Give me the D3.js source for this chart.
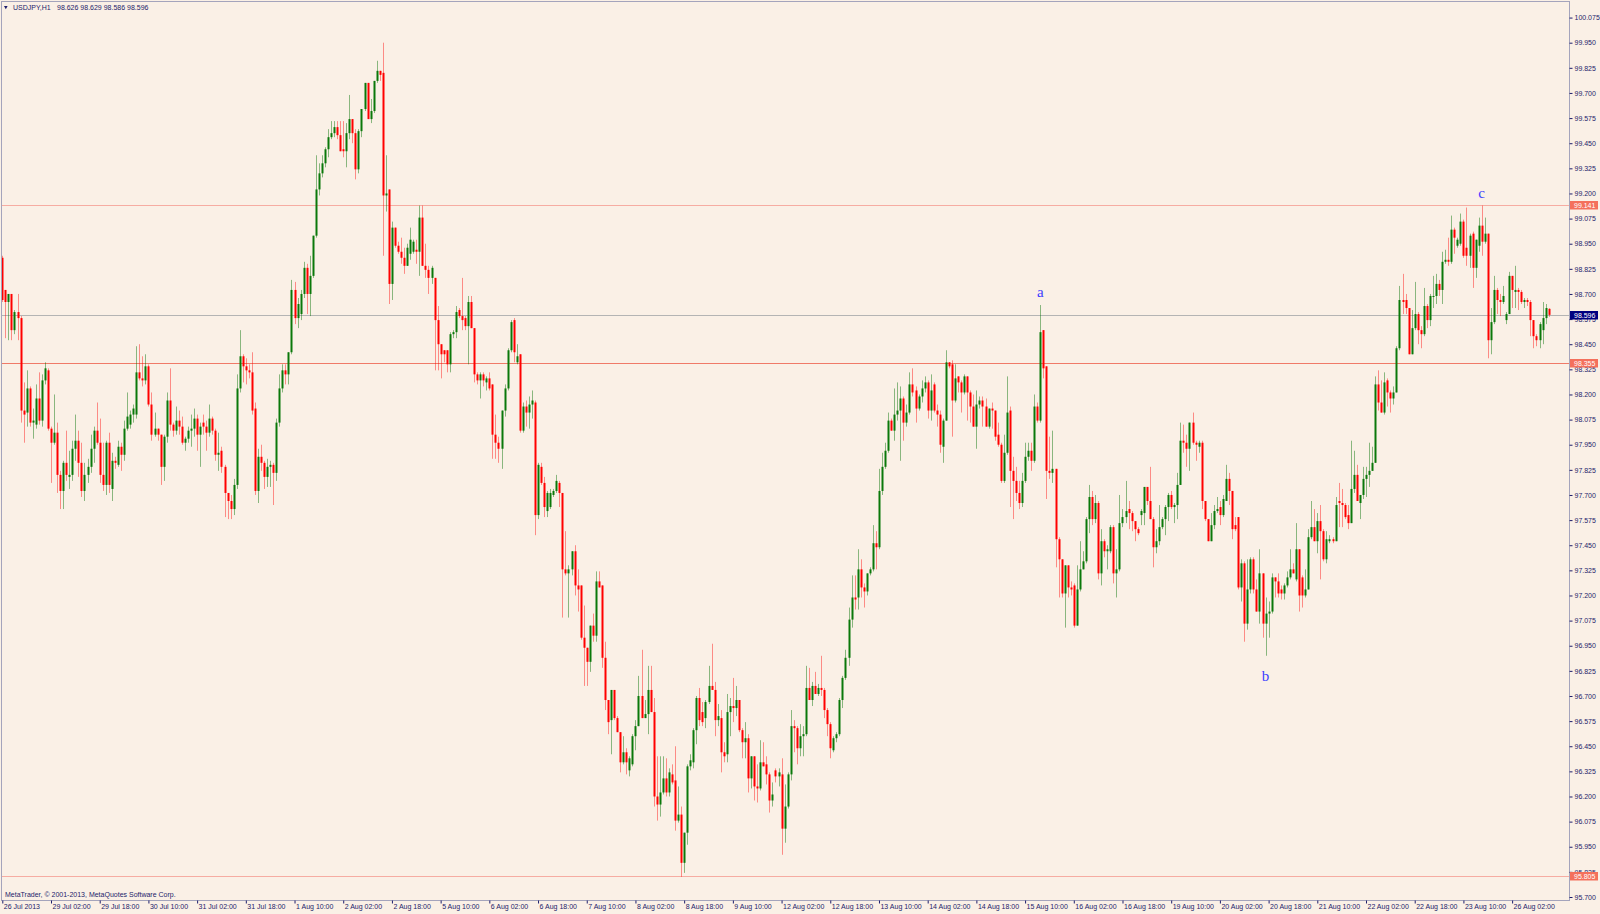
<!DOCTYPE html>
<html>
<head>
<meta charset="utf-8">
<script src="https://cdn.jsdelivr.net/npm/d3@7"></script>
<style>
    html, body { margin: 0; padding: 0; background: #faf0e6; }
    svg { display: block; }
</style>
</head>
<body>
<svg id="chart" width="1600" height="914"></svg>
<script>

// USDJPY H1 bars, one list per trading day: [open, high, low, close]
let jul26 = [[98.88,98.89,98.66,98.67],[98.72,98.72,98.48,98.66],[98.66,98.70,98.47,98.70],[98.70,98.70,98.47,98.52],[98.52,98.62,98.50,98.61],[98.61,98.70,98.47,98.58],[98.58,98.59,98.06,98.12],[98.12,98.26,97.96,98.10],[98.11,98.32,98.04,98.23],[98.23,98.24,98.04,98.06],[98.06,98.13,97.98,98.07],[98.05,98.25,98.03,98.18],[98.18,98.31,98.05,98.07],[98.07,98.30,98.04,98.27]];
let jul29 = [[98.27,98.36,98.25,98.33],[98.32,98.33,98.02,98.03],[98.03,98.04,97.76,97.96],[97.96,98.20,97.95,98.01],[98.01,98.06,97.71,97.80],[97.80,97.82,97.63,97.72],[97.72,97.87,97.63,97.86],[97.86,98.02,97.77,97.80],[97.79,97.92,97.73,97.80],[97.80,97.97,97.77,97.93],[97.93,98.10,97.87,97.97],[97.97,98.02,97.79,97.86],[97.86,97.96,97.69,97.72],[97.72,97.86,97.67,97.80],[97.80,97.88,97.76,97.84],[97.84,98.00,97.81,97.93],[97.93,98.04,97.86,98.02],[98.02,98.16,97.95,97.96],[97.96,98.08,97.76,97.80],[97.80,97.96,97.72,97.75],[97.75,97.97,97.70,97.96],[97.96,98.01,97.71,97.75],[97.73,97.91,97.67,97.87],[97.87,97.89,97.83,97.86]];
let jul30 = [[97.85,97.97,97.84,97.94],[97.94,97.96,97.82,97.90],[97.90,98.07,97.87,98.03],[98.03,98.21,98.02,98.09],[98.05,98.12,98.03,98.10],[98.10,98.15,98.06,98.13],[98.10,98.44,98.08,98.31],[98.31,98.45,98.27,98.28],[98.28,98.39,98.24,98.27],[98.27,98.40,98.25,98.34],[98.34,98.35,98.14,98.15],[98.15,98.21,97.97,98.00],[98.00,98.11,97.99,98.03],[98.03,98.03,97.97,98.00],[98.00,98.00,97.75,97.84],[97.84,98.00,97.77,97.99],[97.99,98.21,97.96,98.17],[98.17,98.33,98.02,98.05],[98.05,98.06,97.99,98.02],[98.02,98.14,98.00,98.07],[98.07,98.12,98.00,98.04],[98.04,98.09,97.95,97.96],[97.96,97.99,97.92,97.98],[97.98,98.04,97.96,98.02]];
let jul31 = [[98.02,98.10,97.94,98.03],[98.03,98.13,97.99,98.08],[98.08,98.10,97.92,98.00],[98.00,98.06,97.84,98.04],[98.06,98.10,98.00,98.04],[98.04,98.07,97.92,98.01],[98.01,98.15,97.99,98.08],[98.08,98.09,98.00,98.02],[98.02,98.03,97.87,97.90],[97.90,98.01,97.82,97.91],[97.92,97.94,97.81,97.84],[97.84,97.85,97.59,97.71],[97.71,97.71,97.58,97.67],[97.67,97.70,97.58,97.63],[97.63,97.78,97.60,97.75],[97.75,98.30,97.73,98.23],[98.23,98.52,98.21,98.39],[98.39,98.40,98.26,98.34],[98.34,98.38,98.25,98.32],[98.32,98.35,98.28,98.31],[98.31,98.41,98.10,98.12],[98.13,98.16,97.70,97.72],[97.72,97.93,97.66,97.89],[97.89,97.95,97.82,97.86]];
let aug01 = [[97.86,97.87,97.73,97.79],[97.79,97.88,97.74,97.84],[97.84,97.87,97.74,97.85],[97.85,97.86,97.65,97.81],[97.81,98.08,97.77,98.06],[98.06,98.30,98.04,98.23],[98.23,98.35,98.21,98.32],[98.32,98.35,98.25,98.30],[98.30,98.41,98.25,98.41],[98.41,98.77,98.40,98.72],[98.72,98.76,98.55,98.58],[98.58,98.68,98.53,98.65],[98.60,98.72,98.57,98.70],[98.70,98.86,98.68,98.83],[98.83,98.85,98.60,98.70],[98.70,98.89,98.59,98.79],[98.79,98.99,98.78,98.99],[98.99,99.39,98.98,99.22],[99.22,99.35,99.19,99.30],[99.30,99.39,99.28,99.35],[99.35,99.43,99.33,99.42],[99.42,99.52,99.38,99.48],[99.48,99.56,99.47,99.50],[99.50,99.56,99.48,99.53]];
let aug02 = [[99.53,99.56,99.47,99.49],[99.49,99.56,99.41,99.41],[99.42,99.56,99.38,99.41],[99.41,99.55,99.33,99.50],[99.50,99.69,99.47,99.57],[99.57,99.57,99.45,99.50],[99.50,99.52,99.27,99.32],[99.32,99.52,99.30,99.51],[99.51,99.62,99.48,99.62],[99.62,99.75,99.61,99.75],[99.75,99.75,99.57,99.57],[99.57,99.67,99.55,99.61],[99.61,99.76,99.60,99.76],[99.76,99.86,99.75,99.81],[99.81,99.81,99.76,99.79],[99.80,99.95,98.89,99.19],[99.19,99.39,99.11,99.20],[99.22,99.22,98.65,98.75],[98.75,99.06,98.67,99.03],[99.03,99.03,98.93,98.94],[98.94,98.96,98.90,98.91],[98.91,98.98,98.85,98.88],[98.88,98.93,98.80,98.84],[98.84,98.95,98.84,98.93]];
let aug05 = [[98.90,99.03,98.87,98.97],[98.91,98.97,98.90,98.96],[98.92,98.97,98.85,98.91],[98.91,99.14,98.79,99.08],[99.08,99.14,98.84,98.84],[98.84,98.95,98.78,98.82],[98.82,98.84,98.70,98.78],[98.78,98.84,98.75,98.83],[98.78,98.78,98.32,98.57],[98.57,98.64,98.32,98.45],[98.45,98.45,98.28,98.40],[98.42,98.42,98.36,98.40],[98.42,98.42,98.31,98.35],[98.35,98.51,98.31,98.50],[98.50,98.52,98.48,98.51],[98.51,98.64,98.48,98.61],[98.62,98.63,98.58,98.59],[98.59,98.78,98.52,98.57],[98.58,98.59,98.52,98.54],[98.54,98.69,98.35,98.66],[98.66,98.69,98.53,98.53],[98.53,98.53,98.26,98.30],[98.30,98.31,98.25,98.27],[98.27,98.31,98.18,98.30]];
let aug06 = [[98.30,98.31,98.24,98.27],[98.26,98.29,98.22,98.28],[98.28,98.31,98.22,98.23],[98.25,98.25,97.88,98.00],[98.00,98.10,97.88,97.96],[97.96,97.99,97.86,97.93],[97.93,98.12,97.83,98.12],[98.12,98.25,98.09,98.23],[98.23,98.43,98.22,98.42],[98.42,98.57,98.41,98.56],[98.57,98.58,98.36,98.41],[98.36,98.45,98.35,98.39],[98.40,98.40,98.01,98.02],[98.02,98.16,98.01,98.14],[98.14,98.17,98.04,98.11],[98.11,98.19,98.03,98.15],[98.15,98.22,98.08,98.17],[98.16,98.17,97.50,97.60],[97.60,97.86,97.58,97.85],[97.84,97.86,97.75,97.76],[97.76,97.79,97.59,97.64],[97.62,97.72,97.59,97.71],[97.64,97.73,97.63,97.71],[97.70,97.73,97.69,97.72]];
let aug07 = [[97.72,97.80,97.71,97.77],[97.76,97.77,97.64,97.71],[97.71,97.71,97.09,97.33],[97.33,97.52,97.30,97.31],[97.31,97.35,97.09,97.33],[97.33,97.42,97.30,97.42],[97.42,97.45,97.20,97.25],[97.25,97.33,97.12,97.23],[97.25,97.25,96.98,96.99],[96.99,97.15,96.75,96.94],[96.94,96.94,96.75,96.87],[96.87,97.05,96.82,97.05],[97.05,97.11,96.97,97.00],[97.00,97.32,96.97,97.27],[97.27,97.32,97.24,97.24],[97.25,97.25,96.84,96.89],[96.89,96.97,96.63,96.68],[96.68,96.68,96.51,96.57],[96.58,96.73,96.41,96.73],[96.73,96.73,96.58,96.59],[96.59,96.60,96.52,96.52],[96.52,96.52,96.32,96.37],[96.37,96.50,96.36,96.42],[96.42,96.44,96.31,96.37]];
let aug08 = [[96.33,96.40,96.30,96.39],[96.36,96.51,96.35,96.50],[96.50,96.58,96.43,96.55],[96.55,96.80,96.55,96.70],[96.70,96.93,96.59,96.59],[96.59,96.68,96.59,96.61],[96.61,96.85,96.51,96.73],[96.73,96.85,96.62,96.62],[96.62,96.69,96.15,96.20],[96.20,96.40,96.08,96.16],[96.16,96.40,96.10,96.22],[96.22,96.40,96.21,96.29],[96.29,96.39,96.20,96.22],[96.22,96.34,96.20,96.32],[96.31,96.36,96.26,96.27],[96.28,96.45,96.03,96.08],[96.08,96.25,96.07,96.11],[96.11,96.15,95.80,95.87],[95.87,96.02,95.82,96.02],[96.02,96.36,95.96,96.35],[96.35,96.41,96.33,96.38],[96.37,96.54,96.34,96.53],[96.53,96.70,96.46,96.69],[96.69,96.74,96.55,96.58]];
let aug09 = [[96.62,96.67,96.55,96.57],[96.59,96.68,96.54,96.67],[96.67,96.85,96.66,96.75],[96.75,96.96,96.73,96.73],[96.73,96.77,96.50,96.58],[96.58,96.66,96.55,96.60],[96.59,96.63,96.32,96.42],[96.42,96.47,96.37,96.40],[96.41,96.71,96.37,96.62],[96.62,96.69,96.50,96.65],[96.65,96.79,96.57,96.64],[96.64,96.75,96.60,96.68],[96.68,96.68,96.52,96.53],[96.53,96.54,96.39,96.47],[96.47,96.57,96.39,96.49],[96.49,96.51,96.22,96.29],[96.29,96.40,96.24,96.40],[96.40,96.40,96.18,96.25],[96.25,96.36,96.17,96.24],[96.24,96.48,96.23,96.37],[96.37,96.47,96.35,96.35],[96.36,96.40,96.26,96.31],[96.31,96.32,96.12,96.18],[96.18,96.27,96.15,96.21]];
let aug12 = [[96.33,96.34,96.27,96.30],[96.30,96.34,96.25,96.32],[96.31,96.39,95.91,96.04],[96.04,96.26,95.97,96.15],[96.15,96.32,96.14,96.31],[96.31,96.63,96.28,96.55],[96.55,96.58,96.42,96.54],[96.54,96.55,96.36,96.44],[96.44,96.56,96.40,96.50],[96.50,96.55,96.40,96.51],[96.51,96.85,96.50,96.74],[96.74,96.84,96.68,96.68],[96.68,96.77,96.65,96.75],[96.75,96.82,96.71,96.71],[96.71,96.76,96.70,96.74],[96.74,96.90,96.70,96.73],[96.73,96.74,96.59,96.63],[96.63,96.64,96.50,96.56],[96.56,96.57,96.39,96.44],[96.43,96.50,96.42,96.49],[96.49,96.52,96.47,96.51],[96.51,96.69,96.50,96.68],[96.68,96.80,96.64,96.79],[96.79,96.93,96.78,96.89]];
let aug13 = [[96.89,97.14,96.85,97.08],[97.08,97.30,97.04,97.19],[97.19,97.30,97.13,97.18],[97.19,97.43,97.13,97.33],[97.33,97.38,97.19,97.24],[97.24,97.26,97.14,97.22],[97.22,97.31,97.20,97.31],[97.31,97.34,97.30,97.33],[97.33,97.55,97.32,97.46],[97.46,97.52,97.33,97.44],[97.44,97.83,97.43,97.72],[97.72,97.91,97.70,97.84],[97.84,97.96,97.83,97.92],[97.92,98.11,97.91,98.07],[98.07,98.08,98.02,98.02],[98.02,98.23,97.97,98.10],[98.10,98.26,98.07,98.12],[98.12,98.24,97.87,98.18],[98.18,98.19,97.97,98.06],[98.06,98.15,98.04,98.11],[98.11,98.31,98.10,98.25],[98.25,98.33,98.19,98.21],[98.22,98.24,98.06,98.13],[98.13,98.20,98.12,98.19]];
let aug14 = [[98.19,98.27,98.16,98.23],[98.23,98.29,98.21,98.26],[98.26,98.27,98.08,98.12],[98.12,98.30,98.07,98.22],[98.25,98.26,98.11,98.12],[98.12,98.15,98.04,98.10],[98.10,98.12,97.91,97.95],[97.94,98.08,97.86,98.07],[98.07,98.42,98.07,98.36],[98.36,98.36,98.33,98.34],[98.35,98.37,97.99,98.17],[98.17,98.35,98.16,98.28],[98.29,98.29,98.21,98.26],[98.26,98.27,98.11,98.21],[98.21,98.30,98.20,98.29],[98.29,98.29,98.07,98.21],[98.21,98.22,98.06,98.14],[98.14,98.20,98.04,98.04],[98.04,98.22,97.93,98.15],[98.15,98.19,98.13,98.17],[98.17,98.19,98.04,98.14],[98.14,98.18,98.04,98.04],[98.04,98.13,98.03,98.13],[98.13,98.16,98.03,98.12]];
let aug15 = [[98.12,98.12,97.97,97.99],[98.00,98.06,97.94,97.95],[97.95,97.96,97.76,97.77],[97.77,98.00,97.76,97.91],[97.91,98.29,97.90,98.11],[98.12,98.14,97.64,97.82],[97.82,97.89,97.58,97.77],[97.77,97.84,97.67,97.71],[97.71,97.77,97.63,97.66],[97.66,97.81,97.64,97.77],[97.77,97.96,97.76,97.89],[97.89,97.96,97.87,97.92],[97.92,97.96,97.82,97.87],[97.87,98.20,97.86,98.14],[98.14,98.16,98.06,98.07],[98.07,98.645,98.06,98.51],[98.52,98.52,98.28,98.33],[98.34,98.34,97.68,97.82],[97.82,97.99,97.78,97.81],[97.81,98.02,97.76,97.83],[97.83,97.83,97.34,97.48],[97.48,97.49,97.19,97.38],[97.38,97.38,97.19,97.21],[97.21,97.35,97.04,97.35]];
let aug16 = [[97.35,97.35,97.19,97.24],[97.24,97.27,97.20,97.23],[97.25,97.26,97.04,97.05],[97.05,97.35,97.05,97.23],[97.23,97.47,97.22,97.33],[97.33,97.42,97.33,97.37],[97.37,97.59,97.36,97.58],[97.58,97.75,97.51,97.69],[97.69,97.72,97.55,97.58],[97.58,97.70,97.56,97.66],[97.66,97.67,97.28,97.31],[97.31,97.53,97.25,97.47],[97.47,97.48,97.39,97.42],[97.42,97.45,97.33,97.43],[97.42,97.55,97.41,97.54],[97.54,97.55,97.26,97.31],[97.31,97.43,97.19,97.33],[97.33,97.70,97.32,97.56],[97.56,97.63,97.54,97.59],[97.59,97.77,97.56,97.62],[97.63,97.67,97.53,97.61],[97.61,97.62,97.52,97.57],[97.57,97.57,97.47,97.53],[97.53,97.54,97.50,97.51]];
let aug19 = [[97.60,97.63,97.55,97.62],[97.61,97.74,97.55,97.74],[97.74,97.74,97.65,97.67],[97.67,97.84,97.58,97.58],[97.58,97.59,97.34,97.44],[97.44,97.53,97.41,97.47],[97.47,97.65,97.45,97.54],[97.54,97.59,97.53,97.58],[97.58,97.65,97.50,97.64],[97.64,97.71,97.57,97.70],[97.70,97.72,97.63,97.64],[97.64,97.66,97.56,97.65],[97.65,97.81,97.58,97.75],[97.75,98.06,97.75,97.97],[97.97,98.05,97.91,97.96],[97.96,98.00,97.84,97.93],[97.93,98.06,97.82,98.06],[98.06,98.11,97.95,97.96],[97.96,97.97,97.87,97.95],[97.94,97.97,97.91,97.96],[97.96,97.97,97.63,97.67],[97.67,97.67,97.57,97.58],[97.58,97.58,97.47,97.47],[97.47,97.61,97.47,97.55]];
let aug20 = [[97.55,97.65,97.53,97.62],[97.62,97.69,97.61,97.63],[97.64,97.67,97.55,97.60],[97.60,97.70,97.59,97.68],[97.67,97.85,97.67,97.78],[97.78,97.81,97.65,97.72],[97.72,97.72,97.48,97.53],[97.55,97.59,97.52,97.53],[97.59,97.59,97.23,97.24],[97.24,97.38,97.17,97.36],[97.36,97.37,96.97,97.06],[97.06,97.38,97.03,97.23],[97.23,97.39,97.21,97.38],[97.38,97.39,97.21,97.23],[97.23,97.28,97.12,97.12],[97.12,97.43,97.06,97.31],[97.31,97.31,96.99,97.06],[97.06,97.19,96.90,97.11],[97.11,97.17,96.99,97.12],[97.12,97.31,97.11,97.29],[97.29,97.29,97.19,97.27],[97.27,97.31,97.19,97.21],[97.23,97.25,97.18,97.21],[97.21,97.26,97.18,97.25]];
let aug21 = [[97.25,97.32,97.24,97.29],[97.29,97.43,97.28,97.33],[97.33,97.36,97.31,97.31],[97.28,97.56,97.27,97.43],[97.43,97.43,97.12,97.20],[97.29,97.30,97.14,97.20],[97.20,97.33,97.19,97.23],[97.23,97.53,97.23,97.49],[97.49,97.67,97.48,97.54],[97.54,97.63,97.47,97.47],[97.47,97.61,97.41,97.57],[97.57,97.65,97.28,97.52],[97.52,97.53,97.37,97.38],[97.38,97.52,97.36,97.48],[97.47,97.50,97.46,97.48],[97.48,97.49,97.46,97.47],[97.47,97.69,97.47,97.65],[97.67,97.76,97.54,97.66],[97.66,97.73,97.54,97.65],[97.65,97.66,97.58,97.59],[97.60,97.65,97.53,97.56],[97.56,97.97,97.56,97.73],[97.73,97.92,97.71,97.80],[97.80,97.85,97.67,97.67]];
let aug22 = [[97.66,97.70,97.58,97.70],[97.70,97.84,97.68,97.78],[97.78,97.84,97.69,97.80],[97.80,97.96,97.74,97.82],[97.82,97.94,97.82,97.86],[97.86,98.29,97.86,98.25],[98.25,98.32,98.12,98.16],[98.16,98.27,98.11,98.11],[98.11,98.31,98.10,98.26],[98.27,98.28,98.14,98.21],[98.21,98.22,98.11,98.18],[98.18,98.24,98.15,98.21],[98.21,98.44,98.21,98.43],[98.43,98.74,98.42,98.67],[98.67,98.80,98.60,98.66],[98.67,98.70,98.60,98.63],[98.63,98.63,98.40,98.40],[98.40,98.62,98.40,98.53],[98.53,98.76,98.52,98.60],[98.60,98.61,98.45,98.52],[98.52,98.54,98.43,98.50],[98.50,98.73,98.49,98.64],[98.64,98.65,98.53,98.57],[98.57,98.70,98.54,98.69]];
let aug23 = [[98.69,98.79,98.63,98.69],[98.69,98.80,98.65,98.75],[98.75,98.77,98.69,98.72],[98.72,98.91,98.65,98.86],[98.86,98.92,98.85,98.87],[98.87,98.98,98.84,98.86],[98.86,99.09,98.85,99.02],[99.02,99.03,98.90,98.98],[98.94,98.98,98.93,98.97],[98.95,99.10,98.94,99.06],[99.06,99.07,98.88,98.89],[98.93,99.13,98.84,98.89],[98.89,99.00,98.83,98.99],[99.00,99.01,98.73,98.83],[98.83,98.97,98.78,98.97],[98.94,99.08,98.91,99.04],[99.04,99.14,98.89,98.96],[98.96,99.08,98.95,99.00],[99.00,99.00,98.38,98.47],[98.47,98.63,98.40,98.56],[98.56,98.79,98.55,98.72],[98.72,98.73,98.60,98.67],[98.67,98.70,98.59,98.66],[98.66,98.74,98.65,98.69]];
let aug26 = [[98.57,98.61,98.55,98.60],[98.60,98.81,98.60,98.79],[98.79,98.79,98.63,98.72],[98.71,98.84,98.63,98.72],[98.72,98.73,98.62,98.71],[98.71,98.72,98.65,98.66],[98.66,98.68,98.63,98.67],[98.67,98.68,98.64,98.66],[98.66,98.67,98.49,98.57],[98.57,98.57,98.43,98.49],[98.49,98.50,98.44,98.47],[98.47,98.56,98.43,98.55],[98.52,98.66,98.45,98.58],[98.58,98.65,98.55,98.63],[98.626,98.629,98.586,98.596]];

let priceTicks = [95.700, 95.825, 95.950, 96.075, 96.200, 96.325, 96.450, 96.575, 96.700, 96.825,
                  96.950, 97.075, 97.200, 97.325, 97.450, 97.575, 97.700, 97.825, 97.950, 98.075,
                  98.200, 98.325, 98.450, 98.575, 98.700, 98.825, 98.950, 99.075, 99.200, 99.325,
                  99.450, 99.575, 99.700, 99.825, 99.950, 100.075];

let dateTicks = ['26 Jul 2013', '29 Jul 02:00', '29 Jul 18:00', '30 Jul 10:00', '31 Jul 02:00',
                 '31 Jul 18:00', '1 Aug 10:00', '2 Aug 02:00', '2 Aug 18:00', '5 Aug 10:00',
                 '6 Aug 02:00', '6 Aug 18:00', '7 Aug 10:00', '8 Aug 02:00', '8 Aug 18:00',
                 '9 Aug 10:00', '12 Aug 02:00', '12 Aug 18:00', '13 Aug 10:00', '14 Aug 02:00',
                 '14 Aug 18:00', '15 Aug 10:00', '16 Aug 02:00', '16 Aug 18:00', '19 Aug 10:00',
                 '20 Aug 02:00', '20 Aug 18:00', '21 Aug 10:00', '22 Aug 02:00', '22 Aug 18:00',
                 '23 Aug 10:00', '26 Aug 02:00'];

let levelLines = [99.141, 98.355, 95.805];
let lastPrice = 98.596;

let waveNames = ['a', 'b', 'c'];
let waveBars = [341, 415, 486];
let waveSide = ['high', 'low', 'high'];

let symbolText = 'USDJPY,H1';
let quoteText = '98.626 98.629 98.586 98.596';
let copyrightText = 'MetaTrader, \u00a9 2001-2013, MetaQuotes Software Corp.';


let days = [jul26, jul29, jul30, jul31, aug01, aug02, aug05, aug06, aug07, aug08, aug09,
            aug12, aug13, aug14, aug15, aug16, aug19, aug20, aug21, aug22, aug23, aug26];

let bars = days.flat();

// bar times: hourly, weekdays only, starting 26 Jul 2013 10:00
let times = [];
let t = Date.UTC(2013, 6, 26, 10);
while (times.length < bars.length) {
    let d = new Date(t);
    if (d.getUTCDay() !== 0 && d.getUTCDay() !== 6) times.push(d);
    t += 3600 * 1000;
}

let fmt_hour = d3.utcFormat('%-d %b %H:%M'),
    fmt_year = d3.utcFormat('%-d %b %Y'),
    hour_labels = times.map(fmt_hour),
    year_labels = times.map(fmt_year);

let tick_index = dateTicks.map(function (s) {
    let i = hour_labels.indexOf(s);
    return i >= 0 ? i : year_labels.indexOf(s);
});


let ink = '#1c1c6a',
    frame = '#a4a4bc',
    font = '"Liberation Sans", Arial, sans-serif';

let svg = d3.select('#chart');

let x = d3.scaleLinear()
    .domain([0, bars.length - 1])
    .range([2.3, 2.3 + 3.044 * (bars.length - 1)]);

let y = d3.scaleLinear()
    .domain([95.700, 99.950])
    .range([897, 42.7]);

svg.append('rect')
    .attr('width', 1600)
    .attr('height', 914)
    .attr('fill', '#faf0e6');

// horizontal lines
svg.append('g')
    .selectAll('line')
    .data(levelLines)
    .enter()
    .append('line')
    .attr('x1', 2)
    .attr('x2', 1569)
    .attr('y1', d => Math.round(y(d)) + 0.5)
    .attr('y2', d => Math.round(y(d)) + 0.5)
    .attr('stroke', d => d === 98.355 ? '#f07a68' : '#f6aca2')
    .attr('stroke-width', 1);

svg.append('line')
    .attr('x1', 2)
    .attr('x2', 1569)
    .attr('y1', Math.round(y(lastPrice)) + 0.5)
    .attr('y2', Math.round(y(lastPrice)) + 0.5)
    .attr('stroke', '#b4b4b4');

// candles
let candles = svg.append('g');

candles.selectAll('line')
    .data(bars)
    .enter()
    .append('line')
    .attr('x1', (d, i) => Math.round(x(i)) + 0.5)
    .attr('x2', (d, i) => Math.round(x(i)) + 0.5)
    .attr('y1', d => y(d[1]))
    .attr('y2', d => y(d[2]))
    .attr('stroke', d => d[3] >= d[0] ? 'rgba(0,110,0,0.45)' : 'rgba(255,0,0,0.42)')
    .attr('stroke-width', 1);

candles.selectAll('rect')
    .data(bars)
    .enter()
    .append('rect')
    .attr('x', (d, i) => Math.round(x(i)) - 0.5)
    .attr('width', 2)
    .attr('y', d => y(Math.max(d[0], d[3])))
    .attr('height', d => Math.max(1, Math.abs(y(d[0]) - y(d[3]))))
    .attr('fill', d => d[3] >= d[0] ? '#0a780a' : '#ff0000');

// frame
svg.append('rect')
    .attr('x', 1.5)
    .attr('y', 1.5)
    .attr('width', 1568)
    .attr('height', 899)
    .attr('fill', 'none')
    .attr('stroke', frame);

// price axis
let price_axis = d3.axisRight(y)
    .tickValues(priceTicks)
    .tickFormat(d3.format('.3f'))
    .tickSize(3)
    .tickPadding(2);

svg.append('g')
    .attr('transform', 'translate(1569.5,0)')
    .call(price_axis)
    .attr('font-size', 7)
    .attr('font-family', font)
    .call(g => g.select('.domain').remove())
    .call(g => g.selectAll('line').attr('stroke', ink))
    .call(g => g.selectAll('text').attr('fill', ink));

// time axis
let time_axis = d3.axisBottom(x)
    .tickValues(tick_index)
    .tickFormat((d, i) => dateTicks[i])
    .tickSize(3)
    .tickPadding(1);

svg.append('g')
    .attr('transform', 'translate(0,900.5)')
    .call(time_axis)
    .attr('font-size', 7)
    .attr('font-family', font)
    .call(g => g.select('.domain').remove())
    .call(g => g.selectAll('line').attr('stroke', ink))
    .call(g => g.selectAll('text')
        .attr('fill', ink)
        .attr('text-anchor', 'start')
        .attr('x', 1));

// price tags on the right
function price_tag (price, fill) {

    let yy = Math.round(y(price));

    svg.append('rect')
        .attr('x', 1570)
        .attr('y', yy - 4)
        .attr('width', 28)
        .attr('height', 8.5)
        .attr('fill', fill);

    svg.append('text')
        .attr('x', 1574)
        .attr('y', yy + 0.5)
        .attr('dy', '0.35em')
        .attr('font-size', 7)
        .attr('font-family', font)
        .attr('fill', '#ffffff')
        .text(d3.format('.3f')(price));

}

levelLines.forEach(p => price_tag(p, '#f4705c'));
price_tag(lastPrice, '#000080');

// wave letters
waveNames.forEach(function (name, k) {

    let i = waveBars[k],
        bar = bars[i],
        yy = waveSide[k] === 'high' ? y(bar[1]) - 8 : y(bar[2]) + 25;

    svg.append('text')
        .attr('x', x(i))
        .attr('y', yy)
        .attr('text-anchor', 'middle')
        .attr('font-size', 15)
        .attr('font-family', '"Liberation Serif", "Times New Roman", serif')
        .attr('fill', '#3c3cff')
        .text(name);

});

// header
svg.append('path')
    .attr('d', 'M4,6 L7.6,6 L5.8,9.2 Z')
    .attr('fill', ink);

svg.append('text')
    .attr('x', 13)
    .attr('y', 10)
    .attr('font-size', 7)
    .attr('font-family', font)
    .attr('fill', ink)
    .text(symbolText);

svg.append('text')
    .attr('x', 57)
    .attr('y', 10)
    .attr('font-size', 7)
    .attr('font-family', font)
    .attr('fill', ink)
    .text(quoteText);

svg.append('text')
    .attr('x', 5)
    .attr('y', 896.5)
    .attr('font-size', 7)
    .attr('font-family', font)
    .attr('fill', ink)
    .text(copyrightText);

</script>
</body>
</html>
